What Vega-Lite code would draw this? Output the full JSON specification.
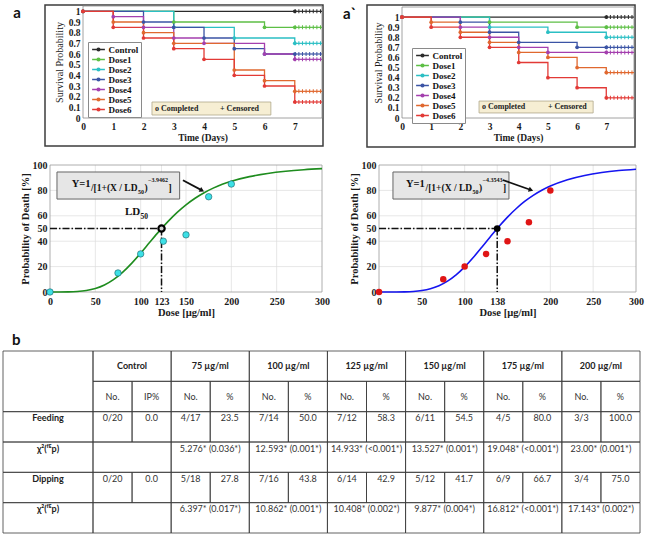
{
"$schema":"https://vega.github.io/schema/vega-lite/v6.json",
"width":669,"height":535,"autosize":{"type":"none"},"padding":0,"background":"white",
"config":{"view":{"stroke":null},
 "axis":{"labelFont":"Liberation Serif","titleFont":"Liberation Serif","labelFontWeight":"bold","titleFontWeight":"bold","labelColor":"#1a1a1a","titleColor":"#1a1a1a","domain":false,"ticks":false,"tickSize":0,"grid":false,"labelOverlap":false,"labelFlush":false}},
"datasets":{
"surv":[
{"p":"sa","g":"Control","t":0,"s":1},{"p":"sa","g":"Control","t":7,"s":1},
{"p":"sa","g":"Dose1","t":0,"s":1},{"p":"sa","g":"Dose1","t":3,"s":0.9},{"p":"sa","g":"Dose1","t":6,"s":0.85},{"p":"sa","g":"Dose1","t":7,"s":0.85},
{"p":"sa","g":"Dose2","t":0,"s":1},{"p":"sa","g":"Dose2","t":3,"s":0.85},{"p":"sa","g":"Dose2","t":5,"s":0.75},{"p":"sa","g":"Dose2","t":7,"s":0.7},
{"p":"sa","g":"Dose3","t":0,"s":1},{"p":"sa","g":"Dose3","t":2,"s":0.9},{"p":"sa","g":"Dose3","t":3,"s":0.85},{"p":"sa","g":"Dose3","t":4,"s":0.75},{"p":"sa","g":"Dose3","t":5,"s":0.65},{"p":"sa","g":"Dose3","t":6,"s":0.6},{"p":"sa","g":"Dose3","t":7,"s":0.6},
{"p":"sa","g":"Dose4","t":0,"s":1},{"p":"sa","g":"Dose4","t":1,"s":0.95},{"p":"sa","g":"Dose4","t":2,"s":0.85},{"p":"sa","g":"Dose4","t":3,"s":0.75},{"p":"sa","g":"Dose4","t":4,"s":0.7},{"p":"sa","g":"Dose4","t":6,"s":0.6},{"p":"sa","g":"Dose4","t":7,"s":0.55},
{"p":"sa","g":"Dose5","t":0,"s":1},{"p":"sa","g":"Dose5","t":1,"s":0.9},{"p":"sa","g":"Dose5","t":2,"s":0.8},{"p":"sa","g":"Dose5","t":3,"s":0.7},{"p":"sa","g":"Dose5","t":5,"s":0.45},{"p":"sa","g":"Dose5","t":6,"s":0.35},{"p":"sa","g":"Dose5","t":7,"s":0.25},
{"p":"sa","g":"Dose6","t":0,"s":1},{"p":"sa","g":"Dose6","t":1,"s":0.85},{"p":"sa","g":"Dose6","t":2,"s":0.75},{"p":"sa","g":"Dose6","t":3,"s":0.65},{"p":"sa","g":"Dose6","t":4,"s":0.55},{"p":"sa","g":"Dose6","t":5,"s":0.4},{"p":"sa","g":"Dose6","t":6,"s":0.3},{"p":"sa","g":"Dose6","t":7,"s":0.15},
{"p":"sb","g":"Control","t":0,"s":1},{"p":"sb","g":"Control","t":7,"s":1},
{"p":"sb","g":"Dose1","t":0,"s":1},{"p":"sb","g":"Dose1","t":3,"s":0.95},{"p":"sb","g":"Dose1","t":6,"s":0.9},{"p":"sb","g":"Dose1","t":7,"s":0.9},
{"p":"sb","g":"Dose2","t":0,"s":1},{"p":"sb","g":"Dose2","t":3,"s":0.9},{"p":"sb","g":"Dose2","t":5,"s":0.85},{"p":"sb","g":"Dose2","t":7,"s":0.8},
{"p":"sb","g":"Dose3","t":0,"s":1},{"p":"sb","g":"Dose3","t":2,"s":0.95},{"p":"sb","g":"Dose3","t":3,"s":0.85},{"p":"sb","g":"Dose3","t":4,"s":0.75},{"p":"sb","g":"Dose3","t":6,"s":0.7},{"p":"sb","g":"Dose3","t":7,"s":0.7},
{"p":"sb","g":"Dose4","t":0,"s":1},{"p":"sb","g":"Dose4","t":2,"s":0.9},{"p":"sb","g":"Dose4","t":3,"s":0.8},{"p":"sb","g":"Dose4","t":4,"s":0.7},{"p":"sb","g":"Dose4","t":5,"s":0.65},{"p":"sb","g":"Dose4","t":7,"s":0.65},
{"p":"sb","g":"Dose5","t":0,"s":1},{"p":"sb","g":"Dose5","t":1,"s":0.95},{"p":"sb","g":"Dose5","t":2,"s":0.85},{"p":"sb","g":"Dose5","t":3,"s":0.75},{"p":"sb","g":"Dose5","t":4,"s":0.65},{"p":"sb","g":"Dose5","t":5,"s":0.6},{"p":"sb","g":"Dose5","t":6,"s":0.5},{"p":"sb","g":"Dose5","t":7,"s":0.45},
{"p":"sb","g":"Dose6","t":0,"s":1},{"p":"sb","g":"Dose6","t":1,"s":0.9},{"p":"sb","g":"Dose6","t":2,"s":0.8},{"p":"sb","g":"Dose6","t":3,"s":0.7},{"p":"sb","g":"Dose6","t":4,"s":0.55},{"p":"sb","g":"Dose6","t":5,"s":0.4},{"p":"sb","g":"Dose6","t":6,"s":0.3},{"p":"sb","g":"Dose6","t":7,"s":0.2}
],
"curve":[
{"p":"da","x":0,"y":0},{"p":"da","x":10,"y":0.005},{"p":"da","x":20,"y":0.08},{"p":"da","x":30,"y":0.38},{"p":"da","x":40,"y":1.17},{"p":"da","x":50,"y":2.79},{"p":"da","x":60,"y":5.56},{"p":"da","x":70,"y":9.76},{"p":"da","x":80,"y":15.48},{"p":"da","x":90,"y":22.57},{"p":"da","x":100,"y":30.64},{"p":"da","x":110,"y":39.16},{"p":"da","x":120,"y":47.56},{"p":"da","x":130,"y":55.44},{"p":"da","x":140,"y":62.51},{"p":"da","x":150,"y":68.64},{"p":"da","x":160,"y":73.84},{"p":"da","x":170,"y":78.19},{"p":"da","x":180,"y":81.8},{"p":"da","x":190,"y":84.76},{"p":"da","x":200,"y":87.2},{"p":"da","x":220,"y":90.84},{"p":"da","x":240,"y":93.32},{"p":"da","x":260,"y":95.04},{"p":"da","x":280,"y":96.25},{"p":"da","x":300,"y":97.12},
{"p":"db","x":0,"y":0},{"p":"db","x":10,"y":0.001},{"p":"db","x":20,"y":0.02},{"p":"db","x":30,"y":0.13},{"p":"db","x":40,"y":0.45},{"p":"db","x":50,"y":1.19},{"p":"db","x":60,"y":2.59},{"p":"db","x":70,"y":4.95},{"p":"db","x":80,"y":8.52},{"p":"db","x":90,"y":13.46},{"p":"db","x":100,"y":19.74},{"p":"db","x":110,"y":27.15},{"p":"db","x":120,"y":35.24},{"p":"db","x":130,"y":43.53},{"p":"db","x":140,"y":51.56},{"p":"db","x":150,"y":58.98},{"p":"db","x":160,"y":65.57},{"p":"db","x":170,"y":71.27},{"p":"db","x":180,"y":76.08},{"p":"db","x":190,"y":80.1},{"p":"db","x":200,"y":83.42},{"p":"db","x":220,"y":88.4},{"p":"db","x":240,"y":91.76},{"p":"db","x":260,"y":94.04},{"p":"db","x":280,"y":95.61},{"p":"db","x":300,"y":96.71}
],
"pts":[
{"p":"da","x":0,"y":0},{"p":"da","x":75,"y":15},{"p":"da","x":100,"y":30},{"p":"da","x":125,"y":40},{"p":"da","x":150,"y":45},{"p":"da","x":175,"y":75},{"p":"da","x":200,"y":85},
{"p":"db","x":0,"y":0},{"p":"db","x":75,"y":10},{"p":"db","x":100,"y":20},{"p":"db","x":125,"y":30},{"p":"db","x":150,"y":40},{"p":"db","x":175,"y":55},{"p":"db","x":200,"y":80}
],
"ld":[{"p":"da","x":123,"y":50},{"p":"db","x":138,"y":50}],
"dash":[
{"p":"da","x":0,"x2":123,"y":50,"y2":50},{"p":"da","x":123,"x2":123,"y":50,"y2":0},
{"p":"db","x":0,"x2":138,"y":50,"y2":50},{"p":"db","x":138,"x2":138,"y":50,"y2":0}
],
"arrow":[{"p":"da","x":146.6,"y":88,"x2":167.6,"y2":80},{"p":"db","x":144.4,"y":88.2,"x2":177.4,"y2":80.3}],
"grid":[
{"p":"da","o":"x","v":50},{"p":"da","o":"x","v":100},{"p":"da","o":"x","v":123},{"p":"da","o":"x","v":150},{"p":"da","o":"x","v":200},{"p":"da","o":"x","v":250},
{"p":"da","o":"y","v":20},{"p":"da","o":"y","v":40},{"p":"da","o":"y","v":50},{"p":"da","o":"y","v":60},{"p":"da","o":"y","v":80},
{"p":"db","o":"x","v":50},{"p":"db","o":"x","v":100},{"p":"db","o":"x","v":138},{"p":"db","o":"x","v":200},{"p":"db","o":"x","v":250},
{"p":"db","o":"y","v":20},{"p":"db","o":"y","v":40},{"p":"db","o":"y","v":50},{"p":"db","o":"y","v":60},{"p":"db","o":"y","v":80}
],
"box":[
{"p":"sa","x":2.28,"x2":6.21,"y":0.028,"y2":0.15},
{"p":"sb","x":2.64,"x2":6.55,"y":0.05,"y2":0.168},
{"p":"da","x":7.7,"x2":143,"y":73.2,"y2":94.5},
{"p":"db","x":16.3,"x2":151.7,"y":73.2,"y2":94.5}
],
"ann":[
{"p":"sa","k":"cc","x":2.38,"y":0.089,"t":"o Completed"},
{"p":"sa","k":"cc","x":4.53,"y":0.089,"t":"+ Censored"},
{"p":"sb","k":"cc","x":2.74,"y":0.109,"t":"o Completed"},
{"p":"sb","k":"cc","x":5.0,"y":0.109,"t":"+ Censored"},
{"p":"sa","k":"lab","x":-2.304,"y":0.935,"t":"a"},
{"p":"sb","k":"lab","x":-2.02,"y":0.981,"t":"a`"},
{"p":"tb","k":"lab","x":0.1,"y":-0.2,"t":"b"},
{"p":"da","k":"big","x":23.9,"y":82.4,"t":"Y=1"},
{"p":"da","k":"mid","x":45.2,"y":79.5,"t":"/[1+(X / LD"},
{"p":"da","k":"sub","x":97.1,"y":77.2,"t":"50"},
{"p":"da","k":"mid","x":104.2,"y":79.5,"t":")"},
{"p":"da","k":"sup","x":108.1,"y":86.9,"t":"−3.9462"},
{"p":"da","k":"mid","x":130.7,"y":79.5,"t":"]"},
{"p":"db","k":"big","x":31.5,"y":82.4,"t":"Y=1"},
{"p":"db","k":"mid","x":54.3,"y":79.5,"t":"/[1+(X / LD"},
{"p":"db","k":"sub","x":109.1,"y":77.2,"t":"50"},
{"p":"db","k":"mid","x":116.7,"y":79.5,"t":")"},
{"p":"db","k":"sup","x":120.8,"y":86.9,"t":"−4.3543"},
{"p":"db","k":"mid","x":144.7,"y":79.5,"t":"]"},
{"p":"da","k":"ldb","x":82.7,"y":60.6,"t":"LD"},
{"p":"da","k":"lds","x":99.8,"y":57.2,"t":"50"}
],
"tbl":[
{"a":0,"b":2,"c0":0,"c1":1,"m":0.5,"t":"","k":"h"},
{"a":0,"b":1,"c0":1,"c1":3,"m":2,"t":"Control","k":"h"},
{"a":0,"b":1,"c0":3,"c1":5,"m":4,"t":"75 µg/ml","k":"h"},
{"a":0,"b":1,"c0":5,"c1":7,"m":6,"t":"100 µg/ml","k":"h"},
{"a":0,"b":1,"c0":7,"c1":9,"m":8,"t":"125 µg/ml","k":"h"},
{"a":0,"b":1,"c0":9,"c1":11,"m":10,"t":"150 µg/ml","k":"h"},
{"a":0,"b":1,"c0":11,"c1":13,"m":12,"t":"175 µg/ml","k":"h"},
{"a":0,"b":1,"c0":13,"c1":15,"m":14,"t":"200 µg/ml","k":"h"},
{"a":1,"b":2,"c0":1,"c1":2,"m":1.5,"t":"No.","k":"n"},
{"a":1,"b":2,"c0":2,"c1":3,"m":2.5,"t":"IP%","k":"n"},
{"a":1,"b":2,"c0":3,"c1":4,"m":3.5,"t":"No.","k":"n"},
{"a":1,"b":2,"c0":4,"c1":5,"m":4.5,"t":"%","k":"n"},
{"a":1,"b":2,"c0":5,"c1":6,"m":5.5,"t":"No.","k":"n"},
{"a":1,"b":2,"c0":6,"c1":7,"m":6.5,"t":"%","k":"n"},
{"a":1,"b":2,"c0":7,"c1":8,"m":7.5,"t":"No.","k":"n"},
{"a":1,"b":2,"c0":8,"c1":9,"m":8.5,"t":"%","k":"n"},
{"a":1,"b":2,"c0":9,"c1":10,"m":9.5,"t":"No.","k":"n"},
{"a":1,"b":2,"c0":10,"c1":11,"m":10.5,"t":"%","k":"n"},
{"a":1,"b":2,"c0":11,"c1":12,"m":11.5,"t":"No.","k":"n"},
{"a":1,"b":2,"c0":12,"c1":13,"m":12.5,"t":"%","k":"n"},
{"a":1,"b":2,"c0":13,"c1":14,"m":13.5,"t":"No.","k":"n"},
{"a":1,"b":2,"c0":14,"c1":15,"m":14.5,"t":"%","k":"n"},
{"a":2,"b":3,"c0":0,"c1":1,"m":0.5,"t":"Feeding","k":"L"},
{"a":2,"b":3,"c0":1,"c1":2,"m":1.5,"t":"0/20","k":"v"},
{"a":2,"b":3,"c0":2,"c1":3,"m":2.5,"t":"0.0","k":"v"},
{"a":2,"b":3,"c0":3,"c1":4,"m":3.5,"t":"4/17","k":"v"},
{"a":2,"b":3,"c0":4,"c1":5,"m":4.5,"t":"23.5","k":"v"},
{"a":2,"b":3,"c0":5,"c1":6,"m":5.5,"t":"7/14","k":"v"},
{"a":2,"b":3,"c0":6,"c1":7,"m":6.5,"t":"50.0","k":"v"},
{"a":2,"b":3,"c0":7,"c1":8,"m":7.5,"t":"7/12","k":"v"},
{"a":2,"b":3,"c0":8,"c1":9,"m":8.5,"t":"58.3","k":"v"},
{"a":2,"b":3,"c0":9,"c1":10,"m":9.5,"t":"6/11","k":"v"},
{"a":2,"b":3,"c0":10,"c1":11,"m":10.5,"t":"54.5","k":"v"},
{"a":2,"b":3,"c0":11,"c1":12,"m":11.5,"t":"4/5","k":"v"},
{"a":2,"b":3,"c0":12,"c1":13,"m":12.5,"t":"80.0","k":"v"},
{"a":2,"b":3,"c0":13,"c1":14,"m":13.5,"t":"3/3","k":"v"},
{"a":2,"b":3,"c0":14,"c1":15,"m":14.5,"t":"100.0","k":"v"},
{"a":3,"b":4,"c0":0,"c1":1,"m":0.5,"t":"χ²(ᶠᴱp)","k":"L"},
{"a":3,"b":4,"c0":1,"c1":3,"m":2,"t":"","k":"v"},
{"a":3,"b":4,"c0":3,"c1":5,"m":4,"t":"5.276* (0.036*)","k":"v"},
{"a":3,"b":4,"c0":5,"c1":7,"m":6,"t":"12.593* (0.001*)","k":"v"},
{"a":3,"b":4,"c0":7,"c1":9,"m":8,"t":"14.933* (<0.001*)","k":"v"},
{"a":3,"b":4,"c0":9,"c1":11,"m":10,"t":"13.527* (0.001*)","k":"v"},
{"a":3,"b":4,"c0":11,"c1":13,"m":12,"t":"19.048* (<0.001*)","k":"v"},
{"a":3,"b":4,"c0":13,"c1":15,"m":14,"t":"23.00* (0.001*)","k":"v"},
{"a":4,"b":5,"c0":0,"c1":1,"m":0.5,"t":"Dipping","k":"L"},
{"a":4,"b":5,"c0":1,"c1":2,"m":1.5,"t":"0/20","k":"v"},
{"a":4,"b":5,"c0":2,"c1":3,"m":2.5,"t":"0.0","k":"v"},
{"a":4,"b":5,"c0":3,"c1":4,"m":3.5,"t":"5/18","k":"v"},
{"a":4,"b":5,"c0":4,"c1":5,"m":4.5,"t":"27.8","k":"v"},
{"a":4,"b":5,"c0":5,"c1":6,"m":5.5,"t":"7/16","k":"v"},
{"a":4,"b":5,"c0":6,"c1":7,"m":6.5,"t":"43.8","k":"v"},
{"a":4,"b":5,"c0":7,"c1":8,"m":7.5,"t":"6/14","k":"v"},
{"a":4,"b":5,"c0":8,"c1":9,"m":8.5,"t":"42.9","k":"v"},
{"a":4,"b":5,"c0":9,"c1":10,"m":9.5,"t":"5/12","k":"v"},
{"a":4,"b":5,"c0":10,"c1":11,"m":10.5,"t":"41.7","k":"v"},
{"a":4,"b":5,"c0":11,"c1":12,"m":11.5,"t":"6/9","k":"v"},
{"a":4,"b":5,"c0":12,"c1":13,"m":12.5,"t":"66.7","k":"v"},
{"a":4,"b":5,"c0":13,"c1":14,"m":13.5,"t":"3/4","k":"v"},
{"a":4,"b":5,"c0":14,"c1":15,"m":14.5,"t":"75.0","k":"v"},
{"a":5,"b":6,"c0":0,"c1":1,"m":0.5,"t":"χ²(ᶠᴱp)","k":"L"},
{"a":5,"b":6,"c0":1,"c1":3,"m":2,"t":"","k":"v"},
{"a":5,"b":6,"c0":3,"c1":5,"m":4,"t":"6.397* (0.017*)","k":"v"},
{"a":5,"b":6,"c0":5,"c1":7,"m":6,"t":"10.862* (0.001*)","k":"v"},
{"a":5,"b":6,"c0":7,"c1":9,"m":8,"t":"10.408* (0.002*)","k":"v"},
{"a":5,"b":6,"c0":9,"c1":11,"m":10,"t":"9.877* (0.004*)","k":"v"},
{"a":5,"b":6,"c0":11,"c1":13,"m":12,"t":"16.812* (<0.001*)","k":"v"},
{"a":5,"b":6,"c0":13,"c1":15,"m":14,"t":"17.143* (0.002*)","k":"v"}
]
},
"layer":[
{"layer":[
 {"data":{"values":[{}]},"mark":{"type":"rect","fill":"transparent","stroke":"#3d3d3d","strokeWidth":1.5},
  "encoding":{"x":{"datum":-1.256,"type":"quantitative","scale":{"domain":[0,7.9],"range":[83,322],"nice":false,"zero":false},
     "axis":{"orient":"bottom","offset":-417,"values":[0,1,2,3,4,5,6,7],"format":"d","title":"Time (Days)","labelFontSize":9.5,"titleFontSize":9.5,"labelPadding":3,"titlePadding":2}},
   "x2":{"datum":7.933},
   "y":{"datum":-0.2625,"type":"quantitative","scale":{"domain":[0,1.05],"range":[118,6],"nice":false,"zero":false},
     "axis":{"orient":"left","offset":-83,"values":[0,0.1,0.2,0.3,0.4,0.5,0.6,0.7,0.8,0.9,1],"format":".1~f","title":"Survival Probability","titleFontWeight":"normal","labelFontSize":9.5,"titleFontSize":10,"labelPadding":3,"titlePadding":4}},
   "y2":{"datum":1.059}}},
 {"data":{"values":[{}]},"mark":{"type":"rect","fill":"transparent","stroke":"#8c8c8c","strokeWidth":0.8},
  "encoding":{"x":{"datum":0,"type":"quantitative"},"x2":{"datum":7.9},"y":{"datum":0,"type":"quantitative"},"y2":{"datum":1.05}}},
 {"data":{"name":"surv"},"transform":[{"filter":"datum.p=='sa'"}],"mark":{"type":"line","interpolate":"step-after","strokeWidth":1.3},
  "encoding":{"x":{"field":"t","type":"quantitative"},"y":{"field":"s","type":"quantitative"},
   "color":{"field":"g","type":"nominal","scale":{"domain":["Control","Dose1","Dose2","Dose3","Dose4","Dose5","Dose6"],"range":["#2b2b2b","#5dbf45","#2bbfc4","#3b54a5","#a43fae","#e0682f","#e23a36"]},
    "legend":{"orient":"none","legendX":88,"legendY":42,"title":null,"fillColor":"white","strokeColor":"#8a8a8a","padding":2.5,"symbolType":"M-1.6,0H1.6M-0.35,0A0.35,0.35 0 1,1 0.35,0A0.35,0.35 0 1,1 -0.35,0","symbolSize":64,"symbolStrokeWidth":1.3,"symbolOffset":3,"labelFont":"Liberation Serif","labelFontWeight":"bold","labelFontSize":9,"labelColor":"#111","labelOffset":5,"rowPadding":0}}}},
 {"data":{"name":"surv"},"transform":[{"filter":"datum.p=='sa'"}],"mark":{"type":"point","shape":"circle","filled":true,"size":14,"opacity":1},
  "encoding":{"x":{"field":"t","type":"quantitative"},"y":{"field":"s","type":"quantitative"},"color":{"field":"g","type":"nominal","legend":null}}},
 {"data":{"name":"surv"},"transform":[{"filter":"datum.p=='sa' && datum.t==7"}],"mark":{"type":"rule","strokeWidth":1.2},
  "encoding":{"x":{"field":"t","type":"quantitative"},"x2":{"datum":7.9},"y":{"field":"s","type":"quantitative"},"color":{"field":"g","type":"nominal","legend":null}}},
 {"data":{"name":"surv"},"transform":[{"filter":"datum.p=='sa' && datum.t==7"}],"mark":{"type":"rule","strokeWidth":4,"strokeDash":[1,2.6]},
  "encoding":{"x":{"field":"t","type":"quantitative"},"x2":{"datum":7.9},"y":{"field":"s","type":"quantitative"},"color":{"field":"g","type":"nominal","legend":null}}},
 {"data":{"name":"box"},"transform":[{"filter":"datum.p=='sa'"}],"mark":{"type":"rect","fill":"#f6eed3","stroke":"#b0a78a","strokeWidth":0.8},
  "encoding":{"x":{"field":"x","type":"quantitative"},"x2":{"field":"x2"},"y":{"field":"y","type":"quantitative"},"y2":{"field":"y2"}}},
 {"data":{"name":"ann"},"transform":[{"filter":"datum.p=='sa' && datum.k=='cc'"}],"mark":{"type":"text","font":"Liberation Serif","fontWeight":"bold","fontSize":8,"align":"left","baseline":"middle","color":"#222"},
  "encoding":{"x":{"field":"x","type":"quantitative"},"y":{"field":"y","type":"quantitative"},"text":{"field":"t"}}},
 {"data":{"name":"ann"},"transform":[{"filter":"datum.p=='sa' && datum.k=='lab'"}],"mark":{"type":"text","font":"Lato","fontWeight":"bold","fontSize":15,"align":"left","baseline":"alphabetic","color":"#111"},
  "encoding":{"x":{"field":"x","type":"quantitative"},"y":{"field":"y","type":"quantitative"},"text":{"field":"t"}}}
]},
{"layer":[
 {"data":{"values":[{}]},"mark":{"type":"rect","fill":"transparent","stroke":"#3d3d3d","strokeWidth":1.5},
  "encoding":{"x":{"datum":-1.2,"type":"quantitative","scale":{"domain":[0,7.95],"range":[402,634],"nice":false,"zero":false},
     "axis":{"orient":"bottom","offset":-417,"values":[0,1,2,3,4,5,6,7],"format":"d","title":"Time (Days)","labelFontSize":9.5,"titleFontSize":9.5,"labelPadding":3,"titlePadding":2}},
   "x2":{"datum":7.985},
   "y":{"datum":-0.2874,"type":"quantitative","scale":{"domain":[0,1.1],"range":[118,7],"nice":false,"zero":false},
     "axis":{"orient":"left","offset":-402,"values":[0,0.1,0.2,0.3,0.4,0.5,0.6,0.7,0.8,0.9,1],"format":".1~f","title":"Survival Probability","titleFontWeight":"normal","labelFontSize":9.5,"titleFontSize":10,"labelPadding":3,"titlePadding":4}},
   "y2":{"datum":1.12}}},
 {"data":{"values":[{}]},"mark":{"type":"rect","fill":"transparent","stroke":"#8c8c8c","strokeWidth":0.8},
  "encoding":{"x":{"datum":0,"type":"quantitative"},"x2":{"datum":7.95},"y":{"datum":0,"type":"quantitative"},"y2":{"datum":1.1}}},
 {"data":{"name":"surv"},"transform":[{"filter":"datum.p=='sb'"}],"mark":{"type":"line","interpolate":"step-after","strokeWidth":1.3},
  "encoding":{"x":{"field":"t","type":"quantitative"},"y":{"field":"s","type":"quantitative"},
   "color":{"field":"g","type":"nominal","scale":{"domain":["Control","Dose1","Dose2","Dose3","Dose4","Dose5","Dose6"],"range":["#2b2b2b","#5dbf45","#2bbfc4","#3b54a5","#a43fae","#e0682f","#e23a36"]},
    "legend":{"orient":"none","legendX":412,"legendY":48,"title":null,"fillColor":"white","strokeColor":"#8a8a8a","padding":2.5,"symbolType":"M-1.6,0H1.6M-0.35,0A0.35,0.35 0 1,1 0.35,0A0.35,0.35 0 1,1 -0.35,0","symbolSize":64,"symbolStrokeWidth":1.3,"symbolOffset":3,"labelFont":"Liberation Serif","labelFontWeight":"bold","labelFontSize":9,"labelColor":"#111","labelOffset":5,"rowPadding":0}}}},
 {"data":{"name":"surv"},"transform":[{"filter":"datum.p=='sb'"}],"mark":{"type":"point","shape":"circle","filled":true,"size":14,"opacity":1},
  "encoding":{"x":{"field":"t","type":"quantitative"},"y":{"field":"s","type":"quantitative"},"color":{"field":"g","type":"nominal","legend":null}}},
 {"data":{"name":"surv"},"transform":[{"filter":"datum.p=='sb' && datum.t==7"}],"mark":{"type":"rule","strokeWidth":1.2},
  "encoding":{"x":{"field":"t","type":"quantitative"},"x2":{"datum":7.95},"y":{"field":"s","type":"quantitative"},"color":{"field":"g","type":"nominal","legend":null}}},
 {"data":{"name":"surv"},"transform":[{"filter":"datum.p=='sb' && datum.t==7"}],"mark":{"type":"rule","strokeWidth":4,"strokeDash":[1,2.6]},
  "encoding":{"x":{"field":"t","type":"quantitative"},"x2":{"datum":7.95},"y":{"field":"s","type":"quantitative"},"color":{"field":"g","type":"nominal","legend":null}}},
 {"data":{"name":"box"},"transform":[{"filter":"datum.p=='sb'"}],"mark":{"type":"rect","fill":"#f6eed3","stroke":"#b0a78a","strokeWidth":0.8},
  "encoding":{"x":{"field":"x","type":"quantitative"},"x2":{"field":"x2"},"y":{"field":"y","type":"quantitative"},"y2":{"field":"y2"}}},
 {"data":{"name":"ann"},"transform":[{"filter":"datum.p=='sb' && datum.k=='cc'"}],"mark":{"type":"text","font":"Liberation Serif","fontWeight":"bold","fontSize":8,"align":"left","baseline":"middle","color":"#222"},
  "encoding":{"x":{"field":"x","type":"quantitative"},"y":{"field":"y","type":"quantitative"},"text":{"field":"t"}}},
 {"data":{"name":"ann"},"transform":[{"filter":"datum.p=='sb' && datum.k=='lab'"}],"mark":{"type":"text","font":"Lato","fontWeight":"bold","fontSize":15,"align":"left","baseline":"alphabetic","color":"#111"},
  "encoding":{"x":{"field":"x","type":"quantitative"},"y":{"field":"y","type":"quantitative"},"text":{"field":"t"}}}
]},
{"layer":[
 {"data":{"name":"grid"},"transform":[{"filter":"datum.p=='da' && datum.o=='x'"}],"mark":{"type":"rule","color":"#dddddd","strokeWidth":0.7},
  "encoding":{"x":{"field":"v","type":"quantitative"},"y":{"datum":0,"type":"quantitative"},"y2":{"datum":100}}},
 {"data":{"name":"grid"},"transform":[{"filter":"datum.p=='da' && datum.o=='y'"}],"mark":{"type":"rule","color":"#dddddd","strokeWidth":0.7},
  "encoding":{"y":{"field":"v","type":"quantitative"},"x":{"datum":0,"type":"quantitative"},"x2":{"datum":300}}},
 {"data":{"values":[{}]},"mark":{"type":"rect","fill":"transparent","stroke":"#999999","strokeWidth":0.8},
  "encoding":{"x":{"datum":0,"type":"quantitative","scale":{"domain":[0,300],"range":[50,322],"nice":false,"zero":false},
     "axis":{"orient":"bottom","offset":-243,"values":[0,50,100,123,150,200,250,300],"title":"Dose [µg/ml]","labelFontSize":10,"titleFontSize":10.5,"labelPadding":4,"titlePadding":1}},
   "x2":{"datum":300},
   "y":{"datum":0,"type":"quantitative","scale":{"domain":[0,100],"range":[292,165],"nice":false,"zero":false},
     "axis":{"orient":"left","offset":-50,"values":[0,20,40,50,60,80,100],"title":"Probability of Death [%]","labelFontSize":10,"titleFontSize":10.5,"labelPadding":3,"titlePadding":2}},
   "y2":{"datum":100}}},
 {"data":{"name":"curve"},"transform":[{"filter":"datum.p=='da'"}],"mark":{"type":"line","interpolate":"monotone","color":"#1e8c1e","strokeWidth":1.6},
  "encoding":{"x":{"field":"x","type":"quantitative"},"y":{"field":"y","type":"quantitative"}}},
 {"data":{"name":"dash"},"transform":[{"filter":"datum.p=='da'"}],"mark":{"type":"rule","color":"#111","strokeWidth":1.5,"strokeDash":[7,2,1.5,2]},
  "encoding":{"x":{"field":"x","type":"quantitative"},"x2":{"field":"x2"},"y":{"field":"y","type":"quantitative"},"y2":{"field":"y2"}}},
 {"data":{"name":"pts"},"transform":[{"filter":"datum.p=='da'"}],"mark":{"type":"point","shape":"circle","filled":true,"size":42,"fill":"#3de0e6","stroke":"#1b5e66","strokeWidth":0.6,"opacity":1},
  "encoding":{"x":{"field":"x","type":"quantitative"},"y":{"field":"y","type":"quantitative"}}},
 {"data":{"name":"ld"},"transform":[{"filter":"datum.p=='da'"}],"mark":{"type":"point","shape":"circle","filled":true,"size":40,"fill":"#cfcfcf","stroke":"#000","strokeWidth":2.2,"opacity":1},
  "encoding":{"x":{"field":"x","type":"quantitative"},"y":{"field":"y","type":"quantitative"}}},
 {"data":{"name":"box"},"transform":[{"filter":"datum.p=='da'"}],"mark":{"type":"rect","fill":"#e6e6e6","stroke":"#666","strokeWidth":1},
  "encoding":{"x":{"field":"x","type":"quantitative"},"x2":{"field":"x2"},"y":{"field":"y","type":"quantitative"},"y2":{"field":"y2"}}},
 {"data":{"name":"ann"},"transform":[{"filter":"datum.p=='da' && datum.k=='big'"}],"mark":{"type":"text","font":"Liberation Serif","fontWeight":"bold","fontSize":10.5,"align":"left","baseline":"alphabetic","color":"#111"},
  "encoding":{"x":{"field":"x","type":"quantitative"},"y":{"field":"y","type":"quantitative"},"text":{"field":"t"}}},
 {"data":{"name":"ann"},"transform":[{"filter":"datum.p=='da' && datum.k=='mid'"}],"mark":{"type":"text","font":"Liberation Serif","fontWeight":"bold","fontSize":9.5,"align":"left","baseline":"alphabetic","color":"#111"},
  "encoding":{"x":{"field":"x","type":"quantitative"},"y":{"field":"y","type":"quantitative"},"text":{"field":"t"}}},
 {"data":{"name":"ann"},"transform":[{"filter":"datum.p=='da' && datum.k=='sub'"}],"mark":{"type":"text","font":"Liberation Serif","fontWeight":"bold","fontSize":6,"align":"left","baseline":"alphabetic","color":"#111"},
  "encoding":{"x":{"field":"x","type":"quantitative"},"y":{"field":"y","type":"quantitative"},"text":{"field":"t"}}},
 {"data":{"name":"ann"},"transform":[{"filter":"datum.p=='da' && datum.k=='sup'"}],"mark":{"type":"text","font":"Liberation Serif","fontWeight":"bold","fontSize":6,"align":"left","baseline":"alphabetic","color":"#111"},
  "encoding":{"x":{"field":"x","type":"quantitative"},"y":{"field":"y","type":"quantitative"},"text":{"field":"t"}}},
 {"data":{"name":"ann"},"transform":[{"filter":"datum.p=='da' && datum.k=='ldb'"}],"mark":{"type":"text","font":"Liberation Serif","fontWeight":"bold","fontSize":11,"align":"left","baseline":"alphabetic","color":"#111"},
  "encoding":{"x":{"field":"x","type":"quantitative"},"y":{"field":"y","type":"quantitative"},"text":{"field":"t"}}},
 {"data":{"name":"ann"},"transform":[{"filter":"datum.p=='da' && datum.k=='lds'"}],"mark":{"type":"text","font":"Liberation Serif","fontWeight":"bold","fontSize":7.5,"align":"left","baseline":"alphabetic","color":"#111"},
  "encoding":{"x":{"field":"x","type":"quantitative"},"y":{"field":"y","type":"quantitative"},"text":{"field":"t"}}},
 {"data":{"name":"arrow"},"transform":[{"filter":"datum.p=='da'"}],"mark":{"type":"rule","color":"#111","strokeWidth":1.8},
  "encoding":{"x":{"field":"x","type":"quantitative"},"x2":{"field":"x2"},"y":{"field":"y","type":"quantitative"},"y2":{"field":"y2"}}},
 {"data":{"name":"arrow"},"transform":[{"filter":"datum.p=='da'"}],"mark":{"type":"point","shape":"triangle-right","filled":true,"size":28,"angle":28,"color":"#111","opacity":1},
  "encoding":{"x":{"field":"x2","type":"quantitative"},"y":{"field":"y2","type":"quantitative"}}}
]},
{"layer":[
 {"data":{"name":"grid"},"transform":[{"filter":"datum.p=='db' && datum.o=='x'"}],"mark":{"type":"rule","color":"#dddddd","strokeWidth":0.7},
  "encoding":{"x":{"field":"v","type":"quantitative"},"y":{"datum":0,"type":"quantitative"},"y2":{"datum":100}}},
 {"data":{"name":"grid"},"transform":[{"filter":"datum.p=='db' && datum.o=='y'"}],"mark":{"type":"rule","color":"#dddddd","strokeWidth":0.7},
  "encoding":{"y":{"field":"v","type":"quantitative"},"x":{"datum":0,"type":"quantitative"},"x2":{"datum":300}}},
 {"data":{"values":[{}]},"mark":{"type":"rect","fill":"transparent","stroke":"#999999","strokeWidth":0.8},
  "encoding":{"x":{"datum":0,"type":"quantitative","scale":{"domain":[0,300],"range":[379,636],"nice":false,"zero":false},
     "axis":{"orient":"bottom","offset":-243,"values":[0,50,100,138,200,250,300],"title":"Dose [µg/ml]","labelFontSize":10,"titleFontSize":10.5,"labelPadding":4,"titlePadding":1}},
   "x2":{"datum":300},
   "y":{"datum":0,"type":"quantitative","scale":{"domain":[0,100],"range":[292,165],"nice":false,"zero":false},
     "axis":{"orient":"left","offset":-379,"values":[0,20,40,50,60,80,100],"title":"Probability of Death [%]","labelFontSize":10,"titleFontSize":10.5,"labelPadding":3,"titlePadding":2}},
   "y2":{"datum":100}}},
 {"data":{"name":"curve"},"transform":[{"filter":"datum.p=='db'"}],"mark":{"type":"line","interpolate":"monotone","color":"#1515f0","strokeWidth":1.6},
  "encoding":{"x":{"field":"x","type":"quantitative"},"y":{"field":"y","type":"quantitative"}}},
 {"data":{"name":"dash"},"transform":[{"filter":"datum.p=='db'"}],"mark":{"type":"rule","color":"#111","strokeWidth":1.5,"strokeDash":[7,2,1.5,2]},
  "encoding":{"x":{"field":"x","type":"quantitative"},"x2":{"field":"x2"},"y":{"field":"y","type":"quantitative"},"y2":{"field":"y2"}}},
 {"data":{"name":"pts"},"transform":[{"filter":"datum.p=='db'"}],"mark":{"type":"point","shape":"circle","filled":true,"size":42,"fill":"#e01515","strokeWidth":0,"opacity":1},
  "encoding":{"x":{"field":"x","type":"quantitative"},"y":{"field":"y","type":"quantitative"}}},
 {"data":{"name":"ld"},"transform":[{"filter":"datum.p=='db'"}],"mark":{"type":"point","shape":"circle","filled":true,"size":45,"fill":"#000","strokeWidth":0,"opacity":1},
  "encoding":{"x":{"field":"x","type":"quantitative"},"y":{"field":"y","type":"quantitative"}}},
 {"data":{"name":"box"},"transform":[{"filter":"datum.p=='db'"}],"mark":{"type":"rect","fill":"#e6e6e6","stroke":"#666","strokeWidth":1},
  "encoding":{"x":{"field":"x","type":"quantitative"},"x2":{"field":"x2"},"y":{"field":"y","type":"quantitative"},"y2":{"field":"y2"}}},
 {"data":{"name":"ann"},"transform":[{"filter":"datum.p=='db' && datum.k=='big'"}],"mark":{"type":"text","font":"Liberation Serif","fontWeight":"bold","fontSize":10.5,"align":"left","baseline":"alphabetic","color":"#111"},
  "encoding":{"x":{"field":"x","type":"quantitative"},"y":{"field":"y","type":"quantitative"},"text":{"field":"t"}}},
 {"data":{"name":"ann"},"transform":[{"filter":"datum.p=='db' && datum.k=='mid'"}],"mark":{"type":"text","font":"Liberation Serif","fontWeight":"bold","fontSize":9.5,"align":"left","baseline":"alphabetic","color":"#111"},
  "encoding":{"x":{"field":"x","type":"quantitative"},"y":{"field":"y","type":"quantitative"},"text":{"field":"t"}}},
 {"data":{"name":"ann"},"transform":[{"filter":"datum.p=='db' && datum.k=='sub'"}],"mark":{"type":"text","font":"Liberation Serif","fontWeight":"bold","fontSize":6,"align":"left","baseline":"alphabetic","color":"#111"},
  "encoding":{"x":{"field":"x","type":"quantitative"},"y":{"field":"y","type":"quantitative"},"text":{"field":"t"}}},
 {"data":{"name":"ann"},"transform":[{"filter":"datum.p=='db' && datum.k=='sup'"}],"mark":{"type":"text","font":"Liberation Serif","fontWeight":"bold","fontSize":6,"align":"left","baseline":"alphabetic","color":"#111"},
  "encoding":{"x":{"field":"x","type":"quantitative"},"y":{"field":"y","type":"quantitative"},"text":{"field":"t"}}},
 {"data":{"name":"arrow"},"transform":[{"filter":"datum.p=='db'"}],"mark":{"type":"rule","color":"#111","strokeWidth":1.8},
  "encoding":{"x":{"field":"x","type":"quantitative"},"x2":{"field":"x2"},"y":{"field":"y","type":"quantitative"},"y2":{"field":"y2"}}},
 {"data":{"name":"arrow"},"transform":[{"filter":"datum.p=='db'"}],"mark":{"type":"point","shape":"triangle-right","filled":true,"size":28,"angle":20,"color":"#111","opacity":1},
  "encoding":{"x":{"field":"x2","type":"quantitative"},"y":{"field":"y2","type":"quantitative"}}}
]},
{"layer":[
 {"data":{"name":"tbl"},"mark":{"type":"rect","fill":"transparent","stroke":"#3a3a3a","strokeWidth":0.8},
  "encoding":{"x":{"field":"c0","type":"quantitative","scale":{"domain":[0,1,15],"range":[3,93,640],"nice":false,"zero":false},"axis":null},"x2":{"field":"c1"},
   "y":{"field":"a","type":"quantitative","scale":{"domain":[0,6],"range":[351,533],"nice":false,"zero":false},"axis":null},"y2":{"field":"b"}}},
 {"data":{"name":"tbl"},"transform":[{"filter":"datum.k=='h'"}],"mark":{"type":"text","font":"Lato","fontWeight":"bold","fontSize":9,"align":"center","baseline":"middle","dy":15.2,"color":"#222"},
  "encoding":{"x":{"field":"m","type":"quantitative","axis":null},"y":{"field":"a","type":"quantitative","axis":null},"text":{"field":"t"}}},
 {"data":{"name":"tbl"},"transform":[{"filter":"datum.k=='n'"}],"mark":{"type":"text","font":"Lato","fontSize":9,"align":"center","baseline":"middle","dy":15.2,"color":"#333"},
  "encoding":{"x":{"field":"m","type":"quantitative","axis":null},"y":{"field":"a","type":"quantitative","axis":null},"text":{"field":"t"}}},
 {"data":{"name":"tbl"},"transform":[{"filter":"datum.k=='L'"}],"mark":{"type":"text","font":"Lato","fontWeight":"bold","fontSize":9,"align":"center","baseline":"middle","dy":6.6,"color":"#222"},
  "encoding":{"x":{"field":"m","type":"quantitative","axis":null},"y":{"field":"a","type":"quantitative","axis":null},"text":{"field":"t"}}},
 {"data":{"name":"tbl"},"transform":[{"filter":"datum.k=='v'"}],"mark":{"type":"text","font":"Lato","fontSize":9,"align":"center","baseline":"middle","dy":6.6,"color":"#333"},
  "encoding":{"x":{"field":"m","type":"quantitative","axis":null},"y":{"field":"a","type":"quantitative","axis":null},"text":{"field":"t"}}},
 {"data":{"name":"ann"},"transform":[{"filter":"datum.p=='tb'"}],"mark":{"type":"text","font":"Lato","fontWeight":"bold","fontSize":15,"align":"left","baseline":"alphabetic","color":"#111"},
  "encoding":{"x":{"field":"x","type":"quantitative","axis":null},"y":{"field":"y","type":"quantitative","axis":null},"text":{"field":"t"}}}
]}
],
"resolve":{"scale":{"x":"independent","y":"independent","color":"independent"},"axis":{"x":"independent","y":"independent"},"legend":{"color":"independent"}}
}
